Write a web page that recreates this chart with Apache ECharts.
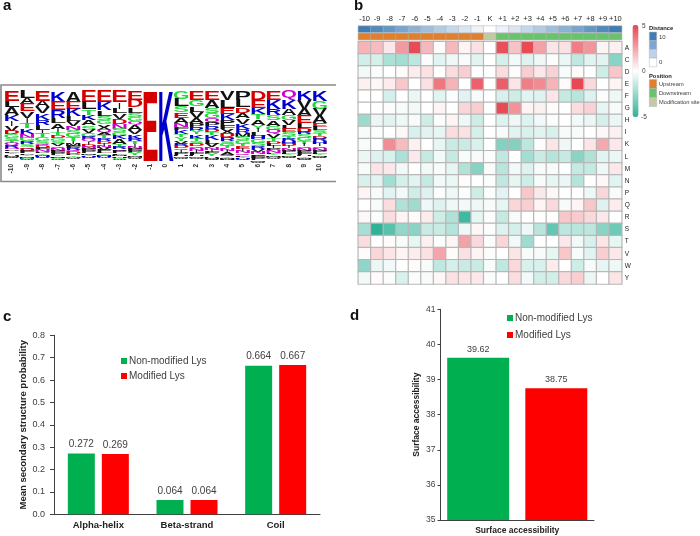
<!DOCTYPE html>
<html>
<head>
<meta charset="utf-8">
<style>html,body{margin:0;padding:0;background:#fff}#c{width:700px;height:536px}</style>
<script src="https://cdn.jsdelivr.net/npm/echarts@6/dist/echarts.min.js"></script>
</head>
<body>
<div id="c"></div>
<script>
const FONT = '"Liberation Sans", Arial, sans-serif';

// Panel a: sequence logo (letters top to bottom, heights in % of the column)
const logoPositions = ['-10','-9','-8','-7','-6','-5','-4','-3','-2','-1','0','1','2','3','4','5','6','7','8','9','10'];
const logoLetters = [
  'ELAKIVDGSTQRNPFYHMCW','LAEVITKNGRSQDFPYMHCW','EAVKRLITGSQDFNPYMHCW','KERLAITDGSVQNFPYMHCW',
  'AEKLVNSGTIMFRQDPYHCW','ELTKASVGRQIDNFPMYHCW','EKLSGXQATRDINVPFYMHW','EILVDNSGKATRQPFMYHCW',
  'EDLSGQAVKRTINFPYMHCW','E','K','GLSEANFKTYVRDQIPHMCW',
  'EGLVAPRYKTSDQNIFHMCW','EASGQPRDTKLVNIFYHMCW','VLEKPFXDRSGTNIAQYMHW','PLDAVKRMSGTEINQFYHCW',
  'DEKTAYILHGSRVNQFPMCW','EKRSAGQVTDLIPNFYMHCW','QKAGVLESTRHDINPFYMCW','KVAELDRSGTIQNPFHYMCW','KGVAELSTDRHIQNPFYMCW'
];
const logoHeights = [
  [14,9,11,9,7,7,5,5,4,3.5,3.5,3,2.5,2.5,2.5,2,2,1.5,1,1],
  [10,9,10,9,8,7,8,6,5,4,4,3,3,3,2,2,2,1.5,1,1],
  [14,9,9,9,7,8,5,5,5,4,3,3,3,3,2,2,2,1,1,1],
  [15,12,11,8,8,5,4,4,4,4,4,3,3,3,3,2,2,1,1,1],
  [15,11,10,7,7,6,5,5,5,4,3,3,3,3,3,2,2,1,1,1],
  [16,10,8,8,7,6,5,5,4,4,4,3,3,3,3,2,2,1,1,1],
  [16,11,8,6,6,8,4,4,4,4,4,3,3,3,3,2,2,2,1,1],
  [16,9,7,8,7,7,5,5,5,7,4,3,3,3,2,2,2,1,1,1],
  [13,10,8,6,6,5,8,6,6,4,4,4,3,3,3,3,2,1,1,1],
  [100],
  [100],
  [11,10,9,8,8,6,4,6,4,5,4,4,3,3,3,3,2,2,1,1],
  [13,9,8,9,7,6,5,5,6,4,4,3,3,3,3,3,2,2,1,1],
  [13,11,8,7,6,5,5,4,4,7,5,5,4,3,3,3,2,2,1,1],
  [13,11,9,9,7,5,7,5,5,4,4,3,3,3,3,2,2,2,1,1],
  [13,10,8,8,8,7,6,5,5,5,4,4,3,3,3,2,2,1,1,1],
  [13,11,9,7,8,6,5,5,5,5,5,4,4,3,3,3,3,2,1,1],
  [13,12,9,8,8,6,6,5,4,4,4,3,3,3,2,2,2,1,1,1],
  [13,12,9,7,7,6,5,5,4,4,4,3,3,3,3,2,2,2,1,1],
  [13,12,10,10,8,5,4,5,5,4,3,3,3,3,3,2,2,2,1,1],
  [14,11,10,10,6,5,4,4,4,4,4,3,3,3,3,2,2,2,1,1]
];
const letterColors = {D:'#d40000',E:'#d40000',K:'#0000cc',R:'#0000cc',H:'#0000cc',S:'#1fd93a',T:'#1fd93a',G:'#1fd93a',Y:'#1fd93a',C:'#1fd93a',N:'#cc00cc',Q:'#cc00cc'};

// Panel b: heat map
const heatColumns = ['-10','-9','-8','-7','-6','-5','-4','-3','-2','-1','K','+1','+2','+3','+4','+5','+6','+7','+8','+9','+10'];
const heatRows = ['A','C','D','E','F','G','H','I','K','L','M','N','P','Q','R','S','T','V','W','Y'];
const heatValues = [
  [2,1.8,.6,2.7,4.8,1.9,.1,1.9,.3,.8,0,4.7,1.6,4.8,2.5,.7,.8,3.4,2.8,.3,.4],
  [-1.1,-1,-2,-2.2,-1.6,-.1,-.7,-.4,-.2,-.7,0,-1,-.3,-.8,-.4,-.1,-.5,-1.5,-.7,-.7,-2.8],
  [-.3,-.1,0,.1,.5,.8,0,.9,1.3,0,0,.9,.1,1.3,.6,1.2,-.2,.1,0,-1.2,1.5],
  [.4,.2,.5,1.5,0,.8,3.6,2,0,4.2,0,4.3,.7,3.4,3.1,2,.1,4.9,1,0,.3],
  [0,0,-1,0,-.5,0,-.7,-.1,-.7,-.2,0,-.9,-1.2,-.7,-.8,.7,-1.4,-1.7,-.8,-.1,-.4],
  [0,0,-.1,-.2,-.3,0,.3,0,1.1,1.3,0,4.8,2.9,.3,.4,.1,0,.9,1.2,-.6,-.2],
  [-2.4,-.5,-.7,-.4,-.2,-1.2,-.1,.3,-.4,-1.2,0,-.8,-.4,-.8,-.3,-.1,0,-.3,-.5,-1,-.5],
  [-.2,-.1,0,.2,-.9,-.7,-.6,.9,.8,-1,0,-.2,-.7,-.9,-.7,-.9,-.2,-.2,0,.2,.4],
  [-.2,0,3,1.8,.4,0,-.6,-1.3,-1.3,-.9,0,-3,-3,-1.6,-.1,.7,-.4,0,.7,2.3,.6],
  [-.5,-.8,-.9,-2,.6,-1.4,-.3,-1.4,-.2,-.2,-.1,-1.5,0,-2.2,-1.3,-1.8,-1.4,-2.8,-1.9,-.7,-.5],
  [-.2,.7,.6,-.3,0,-.3,-.2,-.6,-1.9,-2.9,-.2,-1.7,-.3,-.8,-.2,-.2,0,-1.4,-1.4,-.4,.6],
  [-.9,-.7,-2.2,-1,-.7,-1.4,-.3,-.5,.1,0,-.1,-1.5,-.6,-1.2,-.2,-.6,-.5,-1.8,0,.2,-.7],
  [.3,-.2,-.7,-.3,-1.2,-.8,-.1,-.4,-.1,-1.2,-.1,-.7,0,1.5,.6,.2,0,0,-.4,1.1,-.2],
  [0,-.2,.9,-1.9,-2.3,-.4,-.8,-.4,-.3,-.4,-.2,-.6,1.1,1.3,.3,1,-.2,.3,1.5,-.8,.5],
  [.2,-.1,.9,.3,.1,.5,-1.2,-1.9,-4.6,-.6,-.1,-1.4,-.2,0,0,0,1.5,1.4,1,.6,0],
  [-2.1,-5,-4,-2.6,-2.8,-1.3,-1.3,-1.8,-.4,.2,-.1,-.8,-1,-.4,-1.7,-3.7,-1.6,-1.7,-1.6,-2.8,-3.5],
  [.9,0,.1,-.2,-.6,.4,-.1,.3,2.5,1,-.1,1.1,-.3,-2.3,0,0,.6,-.3,-.9,.7,-.6],
  [.1,1.1,.7,.3,.5,.8,2.4,.1,.8,.3,-.1,0,.7,-.2,-.2,-.6,1.5,-.2,-.7,1.3,.6],
  [-2.7,-.5,-.3,0,.1,-.2,-1.5,-1,-1.3,-1.3,-.2,-1.5,1,-.9,-.9,.5,0,-1.2,-.2,-.6,-.4],
  [-.3,.1,-.1,-.9,-.1,-.2,.2,.8,.7,.6,-.1,0,.9,-.3,-1.1,-1.1,1,1.3,-.5,0,.7]
];
const distanceValues = [10,9,8,7,6,5,4,3,2,1,0,1,2,3,4,5,6,7,8,9,10];
const positionValues = [0,0,0,0,0,0,0,0,0,0,2,1,1,1,1,1,1,1,1,1,1]; // 0 up, 1 down, 2 site

// Panel c
const structCategories = ['Alpha-helix','Beta-strand','Coil'];
const structNonModified = [0.272,0.064,0.664];
const structModified = [0.269,0.064,0.667];

// Panel d
const surfaceCategories = ['Surface accessibility'];
const surfaceNonModified = [39.62];
const surfaceModified = [38.75];

const GREEN = '#00b050', RED = '#ff0000', INK = '#404040';

// flatten the logo
const logoData = [], logoGlyphs = [];
logoLetters.forEach((s, col) => {
  let top = 0;
  s.split('').forEach((ch, i) => {
    const h = logoHeights[col][i];
    logoData.push([col, top, top + h]);
    logoGlyphs.push(ch);
    top += h;
  });
});
const mctx = document.createElement('canvas').getContext('2d');
mctx.font = 'bold 40px ' + FONT;
mctx.textBaseline = 'middle';
function renderLetter(params, api) {
  const ch = logoGlyphs[params.dataIndex];
  const p0 = api.coord([api.value(0), api.value(1)]);
  const p1 = api.coord([api.value(0), api.value(2)]);
  const band = api.size([1, 0])[0];
  const m = mctx.measureText(ch);
  const gw = m.actualBoundingBoxLeft + m.actualBoundingBoxRight;
  const gh = m.actualBoundingBoxAscent + m.actualBoundingBoxDescent;
  const offset = (m.actualBoundingBoxDescent - m.actualBoundingBoxAscent) / 2;
  const sy = (p1[1] - p0[1]) / gh;
  const sx = ch === 'I' ? 0.22 : (band * 0.96) / gw;
  return {
    type: 'text',
    x: p0[0],
    y: (p0[1] + p1[1]) / 2 - offset * sy,
    scaleX: sx,
    scaleY: sy,
    style: {
      text: ch,
      font: 'bold 40px ' + FONT,
      fill: letterColors[ch] || '#111',
      align: 'center',
      verticalAlign: 'middle'
    }
  };
}

function heatData() {
  const out = [];
  heatRows.forEach((r, y) => heatColumns.forEach((c, x) => out.push([x, y, heatValues[y][x]])));
  return out;
}
const txt = (x, y, s, size, bold, fill) => ({
  type: 'text', x, y,
  style: { text: s, font: (bold ? 'bold ' : '') + size + 'px ' + FONT, fill: fill || INK, verticalAlign: 'middle' }
});
const box = (x, y, w, h, fill) => ({
  type: 'rect', shape: { x, y, width: w, height: h },
  style: { fill, stroke: '#b5b5b5', lineWidth: 0.5 }
});

const option = {
  animation: false,
  backgroundColor: '#fff',
  textStyle: { fontFamily: FONT },
  grid: [
    { left: 4, top: 91, width: 323.4, height: 70 },
    { left: 358.3, top: 26, width: 263.4, height: 6.4 },
    { left: 358.3, top: 33.3, width: 263.4, height: 6.4 },
    { left: 358.3, top: 41.7, width: 263.4, height: 242.3 },
    { left: 54, top: 335.3, width: 266, height: 179 },
    { left: 440.5, top: 309.3, width: 153.5, height: 210.7 }
  ],
  xAxis: [
    { gridIndex: 0, type: 'category', data: logoPositions, axisLine: { show: false }, axisTick: { show: false },
      axisLabel: { rotate: 90, fontSize: 6.5, fontWeight: 'bold', color: '#333', margin: 3, interval: 0 } },
    { gridIndex: 1, type: 'category', position: 'top', data: heatColumns, axisLine: { show: false }, axisTick: { show: false },
      axisLabel: { fontSize: 7.5, color: '#222', margin: 3, interval: 0 } },
    { gridIndex: 2, type: 'category', data: heatColumns, axisLine: { show: false }, axisTick: { show: false }, axisLabel: { show: false } },
    { gridIndex: 3, type: 'category', data: heatColumns, axisLine: { show: false }, axisTick: { show: false }, axisLabel: { show: false } },
    { gridIndex: 4, type: 'category', data: structCategories, axisLine: { lineStyle: { color: INK } },
      axisTick: { length: 3, lineStyle: { color: INK } },
      axisLabel: { fontSize: 9.5, fontWeight: 'bold', color: '#222', margin: 6 } },
    { gridIndex: 5, type: 'category', data: surfaceCategories, axisLine: { lineStyle: { color: INK } },
      axisTick: { length: 3, lineStyle: { color: INK } },
      axisLabel: { fontSize: 8.5, fontWeight: 'bold', color: '#222', margin: 6 } }
  ],
  yAxis: [
    { gridIndex: 0, type: 'value', inverse: true, min: 0, max: 100, show: false },
    { gridIndex: 1, type: 'category', data: ['Distance'], show: false },
    { gridIndex: 2, type: 'category', data: ['Position'], show: false },
    { gridIndex: 3, type: 'category', inverse: true, position: 'right', data: heatRows, axisLine: { show: false }, axisTick: { show: false },
      axisLabel: { fontSize: 6.5, color: '#222', margin: 3, interval: 0 } },
    { gridIndex: 4, type: 'value', min: 0, max: 0.8, interval: 0.1,
      name: 'Mean secondary structure probability', nameLocation: 'middle', nameGap: 25,
      nameTextStyle: { fontSize: 9.5, fontWeight: 'bold', color: '#222' },
      splitLine: { show: false }, axisLine: { show: true, lineStyle: { color: INK } },
      axisTick: { show: true, length: 4, lineStyle: { color: INK } },
      axisLabel: { fontSize: 9, color: INK, margin: 9, formatter: v => v.toFixed(1) } },
    { gridIndex: 5, type: 'value', min: 35, max: 41, interval: 1,
      name: 'Surface accessibility', nameLocation: 'middle', nameGap: 19,
      nameTextStyle: { fontSize: 8.5, fontWeight: 'bold', color: '#222' },
      splitLine: { show: false }, axisLine: { show: true, lineStyle: { color: INK } },
      axisTick: { show: true, length: 3, lineStyle: { color: INK } },
      axisLabel: { fontSize: 8.5, color: INK, margin: 5 } }
  ],
  visualMap: [
    { type: 'continuous', seriesIndex: 3, min: -5, max: 5, left: 632.5, top: 25, itemWidth: 6, itemHeight: 92,
      calculable: false, showLabel: false, text: null, padding: 0, realtime: false, hoverLink: false,
      inRange: { color: ['#2eb398', '#ffffff', '#e8434f'] } },
    { type: 'continuous', seriesIndex: 1, min: 0, max: 10, show: false, inRange: { color: ['#ffffff', '#3f7db4'] } },
    { type: 'piecewise', seriesIndex: 2, show: false,
      pieces: [{ value: 0, color: '#e07f2c' }, { value: 1, color: '#69c36d' }, { value: 2, color: '#c3c9a3' }] }
  ],
  legend: [
    { data: ['Non-modified Lys', 'Modified Lys'], orient: 'vertical', left: 121, top: 356, itemWidth: 6, itemHeight: 6,
      itemGap: 5, padding: 0, icon: 'rect', selectedMode: false, textStyle: { fontSize: 10, color: INK, padding: [0, 0, 0, -3] } },
    { data: ['Non-modified Lys', 'Modified Lys'], orient: 'vertical', left: 507, top: 313, itemWidth: 6, itemHeight: 6,
      itemGap: 7, padding: 0, icon: 'rect', selectedMode: false, textStyle: { fontSize: 10, color: INK, padding: [0, 0, 0, -3] } }
  ],
  series: [
    { type: 'custom', xAxisIndex: 0, yAxisIndex: 0, data: logoData, renderItem: renderLetter, clip: false, silent: true },
    { type: 'heatmap', xAxisIndex: 1, yAxisIndex: 1, data: distanceValues.map((v, i) => [i, 0, v]),
      itemStyle: { borderColor: '#b5b5b5', borderWidth: 0.5 }, silent: true },
    { type: 'heatmap', xAxisIndex: 2, yAxisIndex: 2, data: positionValues.map((v, i) => [i, 0, v]),
      itemStyle: { borderColor: '#b5b5b5', borderWidth: 0.5 }, silent: true },
    { type: 'heatmap', xAxisIndex: 3, yAxisIndex: 3, data: heatData(),
      itemStyle: { borderColor: '#b8b8b8', borderWidth: 1.2 }, silent: true },
    { name: 'Non-modified Lys', type: 'bar', xAxisIndex: 4, yAxisIndex: 4, data: structNonModified, barWidth: 27, barGap: '26%',
      itemStyle: { color: GREEN }, label: { show: true, position: 'top', distance: 4, fontSize: 10, color: INK, formatter: p => p.value.toFixed(3) } },
    { name: 'Modified Lys', type: 'bar', xAxisIndex: 4, yAxisIndex: 4, data: structModified, barWidth: 27,
      itemStyle: { color: RED }, label: { show: true, position: 'top', distance: 4, fontSize: 10, color: INK, formatter: p => p.value.toFixed(3) } },
    { name: 'Non-modified Lys', type: 'bar', xAxisIndex: 5, yAxisIndex: 5, data: surfaceNonModified, barWidth: 62, barGap: '26%',
      itemStyle: { color: GREEN }, label: { show: true, position: 'top', distance: 4, fontSize: 9, color: INK, formatter: p => p.value.toFixed(2) } },
    { name: 'Modified Lys', type: 'bar', xAxisIndex: 5, yAxisIndex: 5, data: surfaceModified, barWidth: 62,
      itemStyle: { color: RED }, label: { show: true, position: 'top', distance: 4, fontSize: 9, color: INK, formatter: p => p.value.toFixed(2) } }
  ],
  graphic: [
    { type: 'polyline', shape: { points: [[336, 85], [1, 85], [1, 181.5], [336, 181.5]] }, style: { stroke: '#8a8a8a', lineWidth: 1.6, fill: null } },
    txt(3, 6, 'a', 15, true, '#111'),
    txt(354, 6, 'b', 15, true, '#111'),
    txt(3, 317, 'c', 15, true, '#111'),
    txt(350, 316, 'd', 15, true, '#111'),
    txt(642, 26, '5', 6.5, false),
    txt(642, 71, '0', 6.5, false),
    txt(641, 117, '-5', 6.5, false),
    txt(649, 28, 'Distance', 5.8, true, '#222'),
    box(649.3, 32, 7.4, 8.7, '#3f7db4'),
    box(649.3, 40.7, 7.4, 8.7, '#7ea6d2'),
    box(649.3, 49.4, 7.4, 8.7, '#bdd2e9'),
    box(649.3, 58.1, 7.4, 8.7, '#ffffff'),
    txt(659, 37, '10', 6, false),
    txt(659, 62.5, '0', 6, false),
    txt(649, 76, 'Position', 5.8, true, '#222'),
    box(649.3, 79.5, 7.4, 9, '#e07f2c'),
    box(649.3, 88.5, 7.4, 9, '#69c36d'),
    box(649.3, 97.5, 7.4, 9, '#c3c9a3'),
    txt(659, 84.5, 'Upstream', 5.7, false),
    txt(659, 93.5, 'Downstream', 5.7, false),
    txt(659, 102, 'Modification site', 5.7, false)
  ]
};
echarts.init(document.getElementById('c'), null, { renderer: 'canvas' }).setOption(option);
</script>
</body>
</html>
